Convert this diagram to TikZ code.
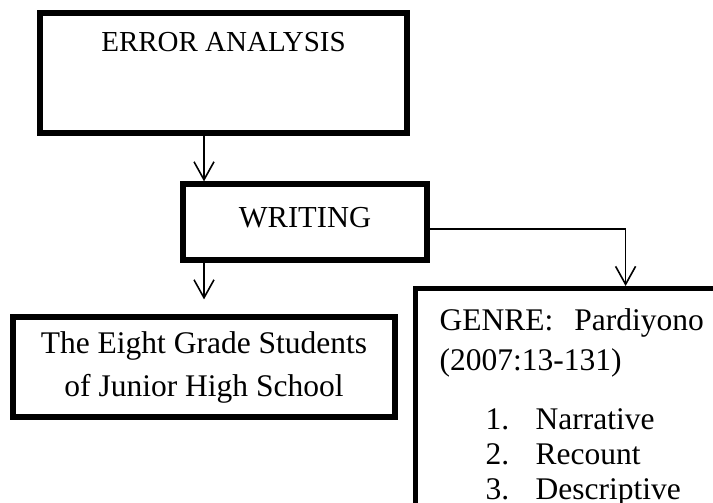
\documentclass[tikz,border=0pt]{standalone}
\usepackage{fontspec}
\setmainfont{Liberation Serif}
\usetikzlibrary{arrows.meta}

\begin{document}
\begin{tikzpicture}[x=0.5pt,y=-0.5pt,
  box/.style={draw,line width=2.6pt,inner sep=0pt},
  arr/.style={-{Straight Barb[length=9pt,width=10pt]},line width=0.8pt}]
  \useasboundingbox (0,0) rectangle (713,503);
  \clip (0,0) rectangle (713,503);
  \node[box,minimum width=183.5pt,minimum height=60pt,text height=10pt,text depth=31pt,font=\fontsize{14.5}{17}\selectfont] (err) at (223.5,73) {ERROR ANALYSIS};
  \node[box,minimum width=122pt,minimum height=38pt,text height=11pt,text depth=6pt,font=\fontsize{15.25}{18}\selectfont] (wri) at (305,222) {WRITING};
  \node[box,minimum width=191pt,minimum height=50pt,align=center,font=\fontsize{15.75}{21.5}\selectfont] (eig) at (204,367) {The Eight Grade Students\\of Junior High School};
  \node[box,anchor=north west,inner xsep=12pt,inner ysep=10pt,text width=186pt,align=left,font=\fontsize{15.75}{17.5}\selectfont] (gen) at (413,286)
    {GENRE:\ \ Pardiyono\\[2.5pt](2007:13-131)\\[12pt]
     \hspace*{23pt}\makebox[25pt][l]{1.}Narrative\\
     \hspace*{23pt}\makebox[25pt][l]{2.}Recount\\
     \hspace*{23pt}\makebox[25pt][l]{3.}Descriptive};
  \draw[arr] (err.south -| eig.north) -- (wri.north -| eig.north);
  \draw[arr,shorten >=7.5pt] (wri.south -| eig.north) -- (eig.north);
  \draw[arr] ([yshift=-3.5pt]wri.east) -| (gen.north);
\end{tikzpicture}
\end{document}
